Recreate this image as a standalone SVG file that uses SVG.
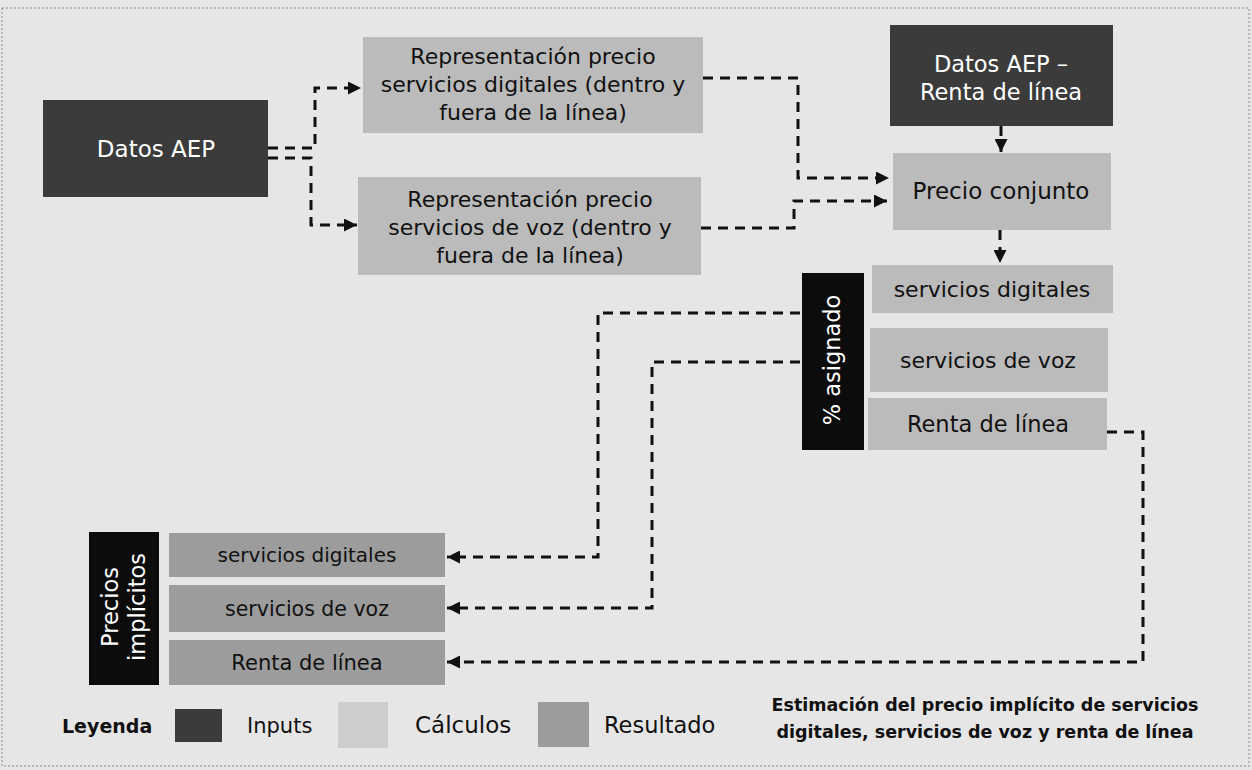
<svg xmlns="http://www.w3.org/2000/svg" width="1252" height="770" viewBox="0 0 1252 770">
<defs>
<style>
.bg{fill:#e6e6e6}
.frame{fill:none;stroke:#8a8a8a;stroke-width:1;stroke-dasharray:2 2}
.inp{fill:#3b3b3b}
.blk{fill:#0c0c0c}
.calc{fill:#bbbbbb}
.res{fill:#9c9c9c}
.lg-calc{fill:#cdcdcd}
.t{font-family:"DejaVu Sans","Liberation Sans",sans-serif;fill:#111;text-anchor:middle}
.w{fill:#ffffff}
.cap{font-family:"DejaVu Sans","Liberation Sans",sans-serif;font-weight:bold;fill:#111;font-size:17.5px;text-anchor:middle}
.lg{font-family:"DejaVu Sans","Liberation Sans",sans-serif;fill:#111}
.con{fill:none;stroke:#111;stroke-width:3;stroke-dasharray:10 7;marker-end:url(#ah)}
</style>
<marker id="ah" markerUnits="userSpaceOnUse" markerWidth="14" markerHeight="13" refX="13" refY="6.5" orient="auto">
<path d="M0,0 L13,6.5 L0,13 Z" fill="#111"/>
</marker>
</defs>
<rect class="bg" x="0" y="0" width="1252" height="770"/>
<rect class="frame" x="2" y="8" width="1247" height="758"/>

<g id="connectors">
<path class="con" d="M268,148 H315 V88 H361"/>
<path class="con" d="M268,158 H311 V225 H357"/>
<path class="con" d="M703,78 H798 V178 H889"/>
<path class="con" d="M701,228 H794 V201 H887"/>
<path class="con" d="M1001,126 V152"/>
<path class="con" d="M1000,230 V263"/>
<path class="con" d="M800,313 H598 V557 H447"/>
<path class="con" d="M800,362 H652 V608 H447"/>
<path class="con" d="M1107,432 H1143 V662 H447"/>
</g>

<g id="datos-aep">
<rect class="inp" x="43" y="100" width="225" height="97"/>
<text class="t w" x="156" y="157" font-size="23">Datos AEP</text>
</g>

<g id="rep-digitales">
<rect class="calc" x="363" y="37" width="340" height="96"/>
<text class="t" x="533" y="64" font-size="22">Representación precio</text>
<text class="t" x="533" y="92" font-size="22">servicios digitales (dentro y</text>
<text class="t" x="533" y="120" font-size="22">fuera de la línea)</text>
</g>

<g id="rep-voz">
<rect class="calc" x="358" y="177" width="343" height="98"/>
<text class="t" x="530" y="207" font-size="22">Representación precio</text>
<text class="t" x="530" y="235" font-size="22">servicios de voz (dentro y</text>
<text class="t" x="530" y="263" font-size="22">fuera de la línea)</text>
</g>

<g id="datos-renta">
<rect class="inp" x="890" y="25" width="223" height="101"/>
<text class="t w" x="1001" y="72" font-size="22.5">Datos AEP –</text>
<text class="t w" x="1001" y="100" font-size="22.5">Renta de línea</text>
</g>

<g id="precio-conjunto">
<rect class="calc" x="893" y="153" width="218" height="77"/>
<text class="t" x="1001" y="199" font-size="23">Precio conjunto</text>
</g>

<g id="asignado">
<rect class="blk" x="802" y="273" width="62" height="177"/>
<text class="t w" transform="translate(840,360) rotate(-90)" x="0" y="0" font-size="22.5">% asignado</text>
</g>

<g id="asig-digitales">
<rect class="calc" x="872" y="265" width="241" height="48"/>
<text class="t" x="992" y="297" font-size="22">servicios digitales</text>
</g>

<g id="asig-voz">
<rect class="calc" x="870" y="328" width="238" height="64"/>
<text class="t" x="988" y="368" font-size="22">servicios de voz</text>
</g>

<g id="asig-renta">
<rect class="calc" x="868" y="398" width="239" height="52"/>
<text class="t" x="988" y="432" font-size="22.5">Renta de línea</text>
</g>

<g id="precios-implicitos">
<rect class="blk" x="89" y="532" width="70" height="153"/>
<text class="t w" transform="translate(124,607) rotate(-90)" x="0" y="-6" font-size="22.5">Precios</text>
<text class="t w" transform="translate(124,607) rotate(-90)" x="0" y="21" font-size="22.5">implícitos</text>
</g>

<g id="imp-digitales">
<rect class="res" x="169" y="533" width="276" height="44"/>
<text class="t" x="307" y="562" font-size="20">servicios digitales</text>
</g>

<g id="imp-voz">
<rect class="res" x="169" y="585" width="276" height="47"/>
<text class="t" x="307" y="616" font-size="20.5">servicios de voz</text>
</g>

<g id="imp-renta">
<rect class="res" x="169" y="640" width="276" height="45"/>
<text class="t" x="307" y="670" font-size="21">Renta de línea</text>
</g>

<g id="legend">
<text class="lg" x="62" y="733" font-weight="bold" font-size="19">Leyenda</text>
<rect class="inp" x="175" y="709" width="47" height="33"/>
<text class="lg" x="247" y="733" font-size="21">Inputs</text>
<rect class="lg-calc" x="338" y="702" width="50" height="46"/>
<text class="lg" x="415" y="733" font-size="23">Cálculos</text>
<rect class="res" x="538" y="702" width="51" height="45"/>
<text class="lg" x="604" y="733" font-size="22.5">Resultado</text>
</g>

<g id="caption">
<text class="cap" x="985" y="711">Estimación del precio implícito de servicios</text>
<text class="cap" x="985" y="738">digitales, servicios de voz y renta de línea</text>
</g>
</svg>
